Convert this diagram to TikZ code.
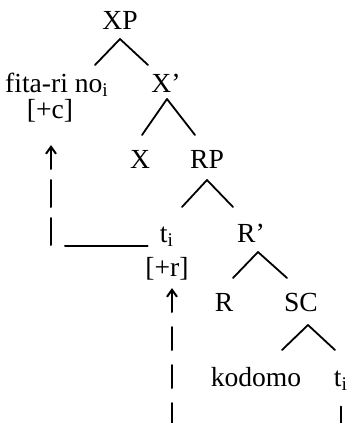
\documentclass[tikz,border=0pt]{standalone}
\usepackage{fontspec}
\setmainfont{Liberation Serif}
\usetikzlibrary{arrows.meta,calc}

\begin{document}
\begin{tikzpicture}[line cap=round,line join=round,>={Straight Barb[length=3.5pt,width=5pt]},x=0.5pt,y=-0.5pt,
  every node/.style={anchor=base,inner sep=0pt,font=\fontsize{13.8}{16}\selectfont},
  branch/.style={line width=0.9pt},
  move/.style={line width=1pt}]
\useasboundingbox (0,0) rectangle (349,423);
% tree labels
\node (XP) at (120,29) {XP};
\node (fita) at (57,92) {fita-ri no\textsubscript{i}};
\node (Xbar) at (166,92) {X'};
\node (cfeat) at (50,118) {[+c]};
\node (X) at (140,168) {X};
\node (RP) at (207,168) {RP};
\node (ti1) at (167,242) {t\textsubscript{i}};
\node (Rbar) at (251,242) {R'};
\node (rfeat) at (167,276) {[+r]};
\node (R) at (224,311) {R};
\node (SC) at (301,311) {SC};
\node (kodomo) at (256,386) {kodomo};
\node (ti2) at (341,386) {t\textsubscript{i}};
% branches
\coordinate (XP-fork) at (120,39);
\coordinate (Xbar-fork) at (167,99);
\coordinate (RP-fork) at (207,180);
\coordinate (Rbar-fork) at (258,252);
\coordinate (SC-fork) at (308,325);
\draw[branch] (XP-fork) -- ++(-25,26);
\draw[branch] (XP-fork) -- ++(28,26);
\draw[branch] (Xbar-fork) -- ++(-25,36);
\draw[branch] (Xbar-fork) -- ++(28,36);
\draw[branch] (RP-fork) -- ++(-25,27);
\draw[branch] (RP-fork) -- ++(26,27);
\draw[branch] (Rbar-fork) -- ++(-25,26);
\draw[branch] (Rbar-fork) -- ++(29,26);
\draw[branch] (SC-fork) -- ++(-26,25);
\draw[branch] (SC-fork) -- ++(27,25);
% movement
\coordinate (c-foot) at (51,245);
\coordinate (c-bend) at (65,246);
\coordinate (r-foot) at (172,426);
\draw[move] (ti1.base west) ++(-12,4) -- (c-bend);
\draw[move,->,dash pattern=on 13.5pt off 5.5pt] (c-foot) -- ([xshift=0.5pt,yshift=-11.5pt]cfeat.south);
\draw[move,->,dash pattern=on 11.5pt off 7.5pt] (r-foot) -- ([xshift=2.5pt,yshift=-4pt]rfeat.south);
\draw[move] ([yshift=-8pt]ti2.south) -- ++(0,24);
\end{tikzpicture}
\end{document}
